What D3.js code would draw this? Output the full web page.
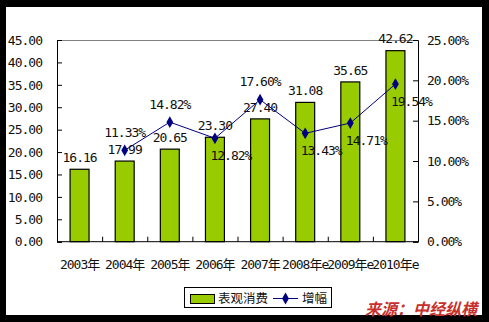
<!DOCTYPE html>
<html>
<head>
<meta charset="utf-8">
<script src="https://cdn.jsdelivr.net/npm/d3@7"></script>
<style>
  html, body { margin: 0; padding: 0; background: #000; }
  svg { display: block; }
  text { font-family: "DejaVu Sans Mono", "Noto Sans CJK SC", monospace; font-size: 13px; letter-spacing: -1px; fill: #111; }
</style>
</head>
<body>
<svg id="chart" width="489" height="322"></svg>
<script>
// Apparent consumption (left axis) and growth rate (right axis), 2003–2010e
const categories = ["2003年", "2004年", "2005年", "2006年", "2007年", "2008年e", "2009年e", "2010年e"];
const consumption = [16.16, 17.99, 20.65, 23.30, 27.40, 31.08, 35.65, 42.62];
const growth = [null, 11.33, 14.82, 12.82, 17.60, 13.43, 14.71, 19.54];
// where each growth label sits relative to its point
const growthLabelSide = [null, "above", "above", "below", "above", "below", "below", "below"];
const leftTicks = [0, 5, 10, 15, 20, 25, 30, 35, 40, 45];
const rightTicks = [0, 5, 10, 15, 20, 25];
const seriesNames = ["表观消费", "增幅"];
const sourceText = "来源：中经纵横";

const svg = d3.select("#chart");

// white canvas inside the black frame
svg.append("rect").attr("x", 6).attr("y", 7).attr("width", 476).attr("height", 308).attr("fill", "#fff");

const plot = { left: 57, right: 418, top: 40, bottom: 241.7 };

const x = d3.scaleBand().domain(categories).range([plot.left, plot.right]).padding(0);
const yL = d3.scaleLinear().domain([0, 45]).range([plot.bottom, plot.top]);
const yR = d3.scaleLinear().domain([0, 25]).range([plot.bottom, plot.top]);

// top border of plot area
svg.append("line").attr("x1", plot.left).attr("x2", plot.right)
  .attr("y1", plot.top + 0.5).attr("y2", plot.top + 0.5).attr("stroke", "#808080");

// bars
const barW = x.bandwidth() * 0.42;
svg.append("g").selectAll("rect").data(consumption).join("rect")
  .attr("x", (d, i) => x(categories[i]) + (x.bandwidth() - barW) / 2)
  .attr("y", d => yL(d))
  .attr("width", barW)
  .attr("height", d => yL(0) - yL(d))
  .attr("fill", "#99cc00")
  .attr("stroke", "#000")
  .attr("stroke-width", 1.2);

// axes with inside ticks
const leftAxis = d3.axisRight(yL).tickValues(leftTicks).tickSize(5).tickFormat("");
svg.append("g").attr("transform", `translate(${plot.left},0)`).call(leftAxis)
  .call(g => g.select(".domain").attr("stroke", "#000"));
const rightAxis = d3.axisLeft(yR).tickValues(rightTicks).tickSize(5).tickFormat("");
svg.append("g").attr("transform", `translate(${plot.right},0)`).call(rightAxis)
  .call(g => g.select(".domain").attr("stroke", "#000"));

// left axis labels
svg.append("g").selectAll("text").data(leftTicks).join("text")
  .attr("x", 42).attr("y", d => yL(d)).attr("dy", "0.36em")
  .attr("text-anchor", "end").text(d => d.toFixed(2));
// right axis labels
svg.append("g").selectAll("text").data(rightTicks).join("text")
  .attr("x", 427).attr("y", d => yR(d)).attr("dy", "0.36em")
  .attr("text-anchor", "start").text(d => d.toFixed(2) + "%");

// category axis: ticks between categories, pointing up
const bottom = svg.append("g");
bottom.append("line").attr("x1", plot.left).attr("x2", plot.right)
  .attr("y1", plot.bottom).attr("y2", plot.bottom).attr("stroke", "#000");
bottom.selectAll("line.tick").data(categories.slice(1)).join("line").attr("class", "tick")
  .attr("x1", d => x(d) + 0.5).attr("x2", d => x(d) + 0.5)
  .attr("y1", plot.bottom).attr("y2", plot.bottom - 5).attr("stroke", "#000");
bottom.selectAll("text").data(categories).join("text")
  .attr("x", d => x(d) + x.bandwidth() / 2).attr("y", 264).attr("dy", "0.36em")
  .attr("text-anchor", "middle").text(d => d);

// bar value labels
svg.append("g").selectAll("text").data(consumption).join("text")
  .attr("x", (d, i) => x(categories[i]) + x.bandwidth() / 2)
  .attr("y", d => yL(d) - 12).attr("dy", "0.36em")
  .attr("text-anchor", "middle").text(d => d.toFixed(2));

// growth line
const pts = growth.map((g, i) => ({ g, i })).filter(p => p.g !== null);
const cx = p => x(categories[p.i]) + x.bandwidth() / 2;
const line = d3.line().x(cx).y(p => yR(p.g));
svg.append("path").datum(pts).attr("d", line)
  .attr("fill", "none").attr("stroke", "#000080").attr("stroke-width", 1);
const diamond = d3.symbol().type(d3.symbolDiamond).size(40);
svg.append("g").selectAll("path").data(pts).join("path")
  .attr("transform", p => `translate(${cx(p)},${yR(p.g)})`)
  .attr("d", diamond).attr("fill", "#000080");

// growth labels
svg.append("g").selectAll("text").data(pts).join("text")
  .attr("x", p => cx(p) + (growthLabelSide[p.i] === "below" ? 16 : 0))
  .attr("y", p => yR(p.g) + (growthLabelSide[p.i] === "below" ? 17 : -18)).attr("dy", "0.36em")
  .attr("text-anchor", "middle").text(p => p.g.toFixed(2) + "%");

// legend
const lg = svg.append("g");
lg.append("rect").attr("x", 184.5).attr("y", 287.5).attr("width", 147).attr("height", 20)
  .attr("fill", "#fff").attr("stroke", "#000");
lg.append("rect").attr("x", 190.5).attr("y", 294.5).attr("width", 24).attr("height", 9)
  .attr("fill", "#99cc00").attr("stroke", "#000");
lg.append("text").attr("x", 218).attr("y", 298.5).attr("dy", "0.36em")
  .style("letter-spacing", "0px").style("font-family", "'Noto Sans CJK SC'").style("font-size", "12.5px")
  .text(seriesNames[0]);
lg.append("line").attr("x1", 273).attr("x2", 298).attr("y1", 298.5).attr("y2", 298.5)
  .attr("stroke", "#000080");
lg.append("path").attr("transform", "translate(285.5,298.5)").attr("d", diamond).attr("fill", "#000080");
lg.append("text").attr("x", 302).attr("y", 298.5).attr("dy", "0.36em")
  .style("letter-spacing", "0px").style("font-family", "'Noto Sans CJK SC'").style("font-size", "12.5px")
  .text(seriesNames[1]);

// source note
svg.append("text").attr("x", 365).attr("y", 309).attr("dy", "0.36em")
  .style("font-family", "'Noto Sans CJK SC'").style("font-size", "16px").style("font-weight", "bold")
  .style("font-style", "italic").style("letter-spacing", "0px")
  .style("fill", "#c8302c")
  .text(sourceText);
</script>
</body>
</html>
